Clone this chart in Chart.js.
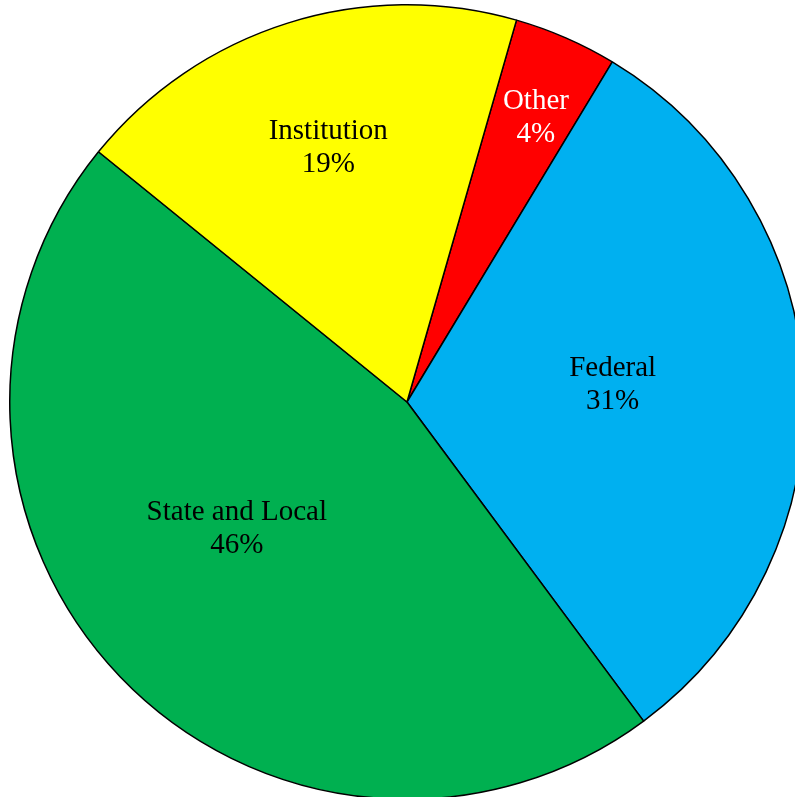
<!DOCTYPE html>
<html>
<head>
<meta charset="utf-8">
<script src="https://cdn.jsdelivr.net/npm/chart.js@4.4.0/dist/chart.umd.min.js"></script>
<style>
html,body{margin:0;padding:0;background:#fff;overflow:hidden;width:795px;height:797px}
#wrap{position:absolute;left:0;top:0;width:814px;height:800px}
</style>
</head>
<body>
<div id="wrap"><canvas id="pie" width="814" height="800"></canvas></div>
<script>
// data (clockwise from the top-right slice)
const labels=['Other','Federal','State and Local','Institution'];
const shares=[4.2,31.2,46.0,18.6];
const pctText=['4%','31%','46%','19%'];

const colors=['#FF0000','#00B0F0','#00B050','#FFFF00'];
const txtColors=['#FFFFFF','#000000','#000000','#000000'];
// label placement like Excel's best fit: fraction of radius + small angle nudge (deg)
const labelPos=[0.79,0.52,0.53,0.675];
const labelTurn=[0.7,-2.6,7.7,0.4];

const sliceLabels={
  id:'sliceLabels',
  afterDatasetsDraw(chart){
    const ctx=chart.ctx, meta=chart.getDatasetMeta(0);
    ctx.save();
    ctx.font='29px "Liberation Serif","Times New Roman",serif';
    ctx.textAlign='center'; ctx.textBaseline='middle';
    meta.data.forEach((arc,i)=>{
      const p=arc.getProps(['x','y','startAngle','endAngle','outerRadius'],true);
      const mid=(p.startAngle+p.endAngle)/2+labelTurn[i]*Math.PI/180, r=p.outerRadius*labelPos[i];
      const x=p.x+Math.cos(mid)*r, y=p.y+Math.sin(mid)*r;
      ctx.fillStyle=txtColors[i];
      ctx.fillText(labels[i],x,y-14);
      ctx.fillText(pctText[i],x,y+19);
    });
    ctx.restore();
  }
};

new Chart(document.getElementById('pie').getContext('2d'),{
  type:'pie',
  data:{labels:labels,datasets:[{data:shares,backgroundColor:colors,borderColor:'#000',borderWidth:1.5}]},
  options:{
    responsive:false,animation:false,rotation:16,
    layout:{padding:{top:4,bottom:0,left:0,right:0}},
    plugins:{legend:{display:false},tooltip:{enabled:false}}
  },
  plugins:[sliceLabels]
});
</script>
</body>
</html>
